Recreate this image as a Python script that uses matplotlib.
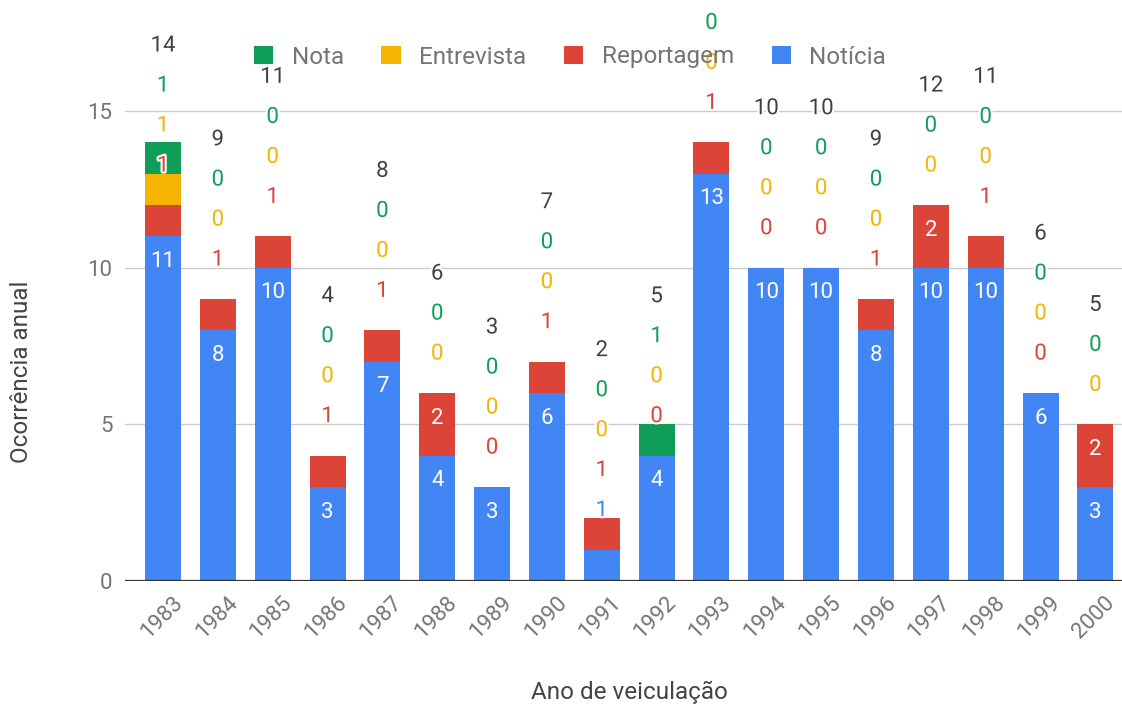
import matplotlib
matplotlib.use("Agg")
import matplotlib.pyplot as plt
import matplotlib.patheffects as pe
import matplotlib.transforms as mtransforms
from matplotlib.patches import Patch
import numpy as np

plt.rcParams['font.family'] = ['Roboto', 'DejaVu Sans']

# Ocorrências anuais por gênero
anos = ["1983", "1984", "1985", "1986", "1987", "1988", "1989", "1990", "1991",
        "1992", "1993", "1994", "1995", "1996", "1997", "1998", "1999", "2000"]
noticia = [11, 8, 10, 3, 7, 4, 3, 6, 1, 4, 13, 10, 10, 8, 10, 10, 6, 3]
reportagem = [1, 1, 1, 1, 1, 2, 0, 1, 1, 0, 1, 0, 0, 1, 2, 1, 0, 2]
entrevista = [1, 0, 0, 0, 0, 0, 0, 0, 0, 0, 0, 0, 0, 0, 0, 0, 0, 0]
nota = [1, 0, 0, 0, 0, 0, 0, 0, 0, 1, 0, 0, 0, 0, 0, 0, 0, 0]
yticks = [0, 5, 10, 15]

BLUE, RED, YELLOW, GREEN = "#4285F4", "#DB4437", "#F4B400", "#0F9D58"
series = [("Notícia", noticia, BLUE), ("Reportagem", reportagem, RED),
          ("Entrevista", entrevista, YELLOW), ("Nota", nota, GREEN)]

W, H = 1122, 707
fig = plt.figure(figsize=(W / 100, H / 100), dpi=100)
left_px, right_px, base_px, top_px = 125, 1122, 581, 20
ax = fig.add_axes([left_px / W, 1 - base_px / H,
                   (right_px - left_px) / W, (base_px - top_px) / H])

px_per_unit = 31.33
ax.set_ylim(0, (base_px - top_px) / px_per_unit)
n = len(anos)
x = np.arange(n)
pitch = 54.85
ax.set_xlim(-(163 - left_px) / pitch, n - 1 + (right_px - 1095.4) / pitch)

upp = 1 / px_per_unit
halo = [pe.withStroke(linewidth=3, foreground="white")]
FS = 16      # annotations and ticks
FS_BIG = 17.5  # legend and axis titles

bottom = np.zeros(n)
for name, vals, color in series:
    ax.bar(x, vals, bottom=bottom, width=0.656, color=color, zorder=2,
           linewidth=0)
    bottom = bottom + np.array(vals)
totals = bottom

# value annotations: inside the segment when it fits, otherwise stacked above
for i in range(n):
    base = 0
    last = None
    for name, vals, color in series:
        v = vals[i]
        top = base + v
        if v >= 2:
            ax.text(x[i], top - 25 * upp, str(v), ha="center", va="center",
                    color="white", fontsize=FS, zorder=4)
        else:
            y = top + 39 * upp
            if last is not None:
                y = max(y, last + 40 * upp)
            ax.text(x[i], y, str(v), ha="center", va="center", color=color,
                    fontsize=FS, zorder=5, clip_on=False, path_effects=halo)
            last = y
        base = top
    y = totals[i] + 39 * upp
    if last is not None:
        y = max(y, last + 40 * upp)
    ax.text(x[i], y, str(int(totals[i])), ha="center", va="center",
            color="#424242", fontsize=FS, zorder=5, clip_on=False,
            path_effects=halo)

ax.set_yticks(yticks)
ax.yaxis.grid(True, color="#cccccc", linewidth=1, zorder=0)
ax.set_axisbelow(True)
ax.axhline(0, color="#333333", linewidth=1.6, zorder=3)
for s in ax.spines.values():
    s.set_visible(False)
ax.tick_params(axis="y", length=0, pad=9, labelsize=FS, labelcolor="#757575")
ax.tick_params(axis="x", length=0, pad=8, labelsize=FS, labelcolor="#757575")
ax.set_xticks(x)
ax.set_xticklabels(anos, rotation=45, ha="right", rotation_mode="anchor")
shift = mtransforms.ScaledTranslation(9 / 100, 0, fig.dpi_scale_trans)
for lbl in ax.get_xticklabels():
    lbl.set_transform(lbl.get_transform() + shift)

handles = [Patch(facecolor=c, edgecolor="none", label=nm)
           for nm, _, c in reversed(series)]
fig.legend(handles=handles, loc="center", bbox_to_anchor=(570 / W, 1 - 57 / H),
           ncol=4, frameon=False, fontsize=FS_BIG, handlelength=0.8,
           handleheight=0.8, handletextpad=0.75, columnspacing=1.55,
           labelcolor="#757575")

fig.text(22 / W, 1 - 372 / H, "Ocorrência anual", rotation=90, ha="center",
         va="center", color="#444444", fontsize=FS_BIG)
fig.text(629 / W, 1 - 692 / H, "Ano de veiculação", ha="center", va="center",
         color="#444444", fontsize=FS_BIG)

fig.savefig("out.png", dpi=100)
